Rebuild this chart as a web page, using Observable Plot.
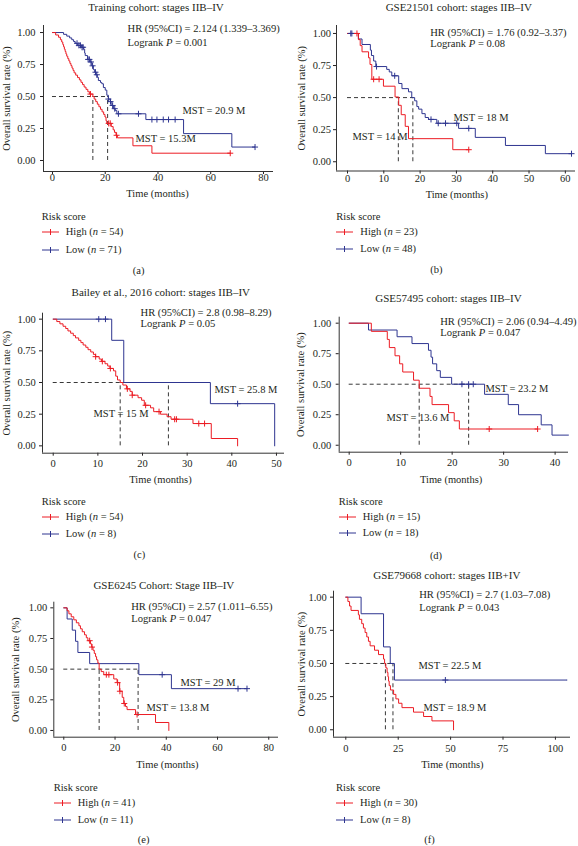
<!DOCTYPE html>
<html><head><meta charset="utf-8">
<script src="https://cdn.jsdelivr.net/npm/d3@7"></script>
<script src="https://cdn.jsdelivr.net/npm/@observablehq/plot@0.6"></script>
<style>
body{margin:0;background:#fff}
#root{position:relative;width:578px;height:846px;overflow:hidden;font-family:"Liberation Serif","Times New Roman",serif;color:#231f20}
#root svg{position:absolute}
.t{position:absolute;white-space:nowrap;font-size:10.5px;line-height:14px}
.sym{position:absolute}
</style></head><body><div id="root"></div>
<script>
const RED = "#ec1c24", BLUE = "#2e3590";
const Y_TICKS = [0, 0.25, 0.5, 0.75, 1];
const Y_LABEL = "Overall survival rate (%)";
const X_LABEL = "Time (months)";

// ---------- (a) Training cohort ----------
const aTitle = "Training cohort: stages IIB–IV";
const aHR = "HR (95%CI) = 2.124 (1.339–3.369)";
const aP = "0.001";
const aMST = [15.3, 20.9];
const aMSTLabels = ["MST = 15.3M", "MST = 20.9 M"];
const aN = [54, 71];
const aXTicks = [0, 20, 40, 60, 80];
const aHighTime = [0,1.2,2.3,3.0,3.5,3.9,4.2,4.5,4.8,5.1,5.4,5.8,6.2,6.6,7.0,7.4,7.8,8.2,8.8,9.5,10.2,10.8,11.4,12.0,12.7,13.4,14.1,15.3,15.8,16.4,17.0,17.6,18.2,18.8,19.4,19.9,20.3,20.6,22.3,23.0,23.5,24.1,24.6,30.5,37.7,67.4];
const aHighSurv = [1,0.981,0.963,0.944,0.926,0.907,0.889,0.870,0.852,0.833,0.815,0.796,0.778,0.759,0.741,0.722,0.704,0.685,0.667,0.648,0.630,0.611,0.593,0.574,0.556,0.537,0.519,0.500,0.480,0.460,0.440,0.420,0.400,0.380,0.360,0.340,0.310,0.290,0.265,0.240,0.220,0.197,0.177,0.115,0.057,0.057];
const aHighCens = [14.4, 21.3, 21.9, 24.3, 67.4];
const aLowTime = [0,4.2,5.4,6.5,7.3,8.0,8.6,9.4,11.1,11.8,12.2,12.4,13.3,14.3,14.9,15.5,16.0,16.5,17.0,17.4,18.2,18.7,19.3,20.0,20.6,21.2,21.9,22.5,23.1,23.8,24.4,35.4,49.7,68.0,76.8];
const aLowSurv = [1,0.986,0.972,0.958,0.944,0.930,0.916,0.900,0.885,0.870,0.840,0.820,0.790,0.770,0.740,0.710,0.690,0.670,0.650,0.625,0.610,0.600,0.570,0.550,0.510,0.480,0.460,0.430,0.405,0.390,0.365,0.320,0.210,0.105,0.105];
const aLowCens = [9.3,10.0,10.6,11.2,11.6,13.5,14.0,14.6,15.2,16.3,16.8,21.2,22.0,22.8,23.6,25.0,32.6,37.7,39.6,42.0,44.0,46.5,76.8];

// ---------- (b) GSE21501 ----------
const bTitle = "GSE21501 cohort: stages IIB–IV";
const bHR = "HR (95%CI) = 1.76 (0.92–3.37)";
const bP = "0.08";
const bMST = [14, 18];
const bMSTLabels = ["MST = 14 M", "MST = 18 M"];
const bN = [23, 48];
const bXTicks = [0, 10, 20, 30, 40, 50, 60];
const bHighTime = [0,3.0,3.5,4.0,5.8,6.2,6.7,9.9,13.1,14.1,14.8,15.9,16.8,29.0,33.4];
const bHighSurv = [1,0.952,0.905,0.857,0.810,0.758,0.643,0.589,0.505,0.440,0.367,0.276,0.180,0.094,0.094];
const bHighCens = [2.6, 7.2, 8.7, 33.4];
const bLowTime = [0,3.0,4.0,6.3,6.6,7.2,7.8,10.8,11.5,12.2,14.1,15.0,16.8,17.7,18.5,19.1,19.6,20.5,21.4,22.3,24.6,30.6,35.2,43.5,54.5,61.7];
const bLowSurv = [1,0.957,0.914,0.870,0.828,0.785,0.742,0.720,0.700,0.670,0.610,0.570,0.545,0.500,0.475,0.430,0.410,0.375,0.345,0.330,0.300,0.260,0.190,0.127,0.063,0.063];
const bLowCens = [0.9, 1.2, 8.0, 13.0, 23.0, 25.0, 27.0, 30.1, 33.4, 61.7];

// ---------- (c) Bailey et al., 2016 ----------
const cTitle = "Bailey et al., 2016 cohort: stages IIB–IV";
const cHR = "HR (95%CI) = 2.8 (0.98–8.29)";
const cP = "0.05";
const cMST = [15, 25.8];
const cMSTLabels = ["MST = 15 M", "MST = 25.8 M"];
const cN = [54, 8];
const cXTicks = [0, 10, 20, 30, 40, 50];
const cHighTime = [0,0.8,1.5,2.2,2.8,3.3,3.9,4.5,5.0,5.7,6.2,6.7,7.3,7.8,8.4,9.0,9.5,10.3,10.8,11.6,12.2,12.7,13.5,14.0,14.4,15.0,15.6,16.4,17.2,17.7,19.0,19.8,20.4,21.8,22.5,24.0,25.5,26.4,31.3,35.4,41.3];
const cHighSurv = [1,0.981,0.963,0.944,0.926,0.907,0.889,0.870,0.852,0.833,0.815,0.796,0.778,0.759,0.741,0.722,0.704,0.685,0.667,0.648,0.630,0.611,0.592,0.550,0.520,0.500,0.480,0.450,0.430,0.400,0.380,0.360,0.320,0.300,0.270,0.250,0.230,0.210,0.176,0.058,0];
const cHighCens = [9.5, 11.0, 12.8, 16.6, 17.7, 20.7, 23.7, 27.2, 27.6, 32.6, 33.9];
const cLowTime = [0, 13.1, 15.8, 35.2, 49.6];
const cLowSurv = [1, 0.833, 0.5, 0.333, 0];
const cLowCens = [10.2, 11.7, 41.3];

// ---------- (d) GSE57495 ----------
const dTitle = "GSE57495 cohort: stages IIB–IV";
const dHR = "HR (95%CI) = 2.06 (0.94–4.49)";
const dP = "0.047";
const dMST = [13.6, 23.2];
const dMSTLabels = ["MST = 13.6 M", "MST = 23.2 M"];
const dN = [15, 18];
const dXTicks = [0, 10, 20, 30, 40];
const dHighTime = [0,4.3,7.4,7.8,8.9,9.8,10.4,12.5,13.6,15.7,16.1,19.3,20.4,21.4,36.6];
const dHighSurv = [1,0.933,0.867,0.800,0.733,0.667,0.600,0.533,0.467,0.400,0.333,0.267,0.200,0.133,0.133];
const dHighCens = [27.2, 36.6];
const dLowTime = [0,3.75,9.3,12.2,15.4,15.9,16.2,17.0,17.7,19.9,26.3,30.9,32.9,37.3,39.4,42.6];
const dLowSurv = [1,0.944,0.889,0.833,0.778,0.722,0.667,0.611,0.556,0.500,0.417,0.333,0.250,0.167,0.083,0.083];
const dLowCens = [21.9, 23.2, 24.1];

// ---------- (e) GSE6245 ----------
const eTitle = "GSE6245 Cohort: Stage IIB–IV";
const eHR = "HR (95%CI) = 2.57 (1.011–6.55)";
const eP = "0.047";
const eMST = [13.8, 29];
const eMSTLabels = ["MST = 13.8 M", "MST = 29 M"];
const eN = [41, 11];
const eXTicks = [0, 20, 40, 60, 80];
const eHighTime = [0,1.3,2.0,2.9,3.9,4.9,5.9,6.5,7.2,8.1,8.8,9.4,10.4,10.9,11.4,11.9,12.4,12.8,13.3,13.8,14.6,15.6,19.5,20.8,21.8,22.8,23.4,24.1,24.7,28.0,35.8,41.0];
const eHighSurv = [1,0.976,0.951,0.927,0.902,0.878,0.854,0.829,0.805,0.780,0.756,0.732,0.706,0.680,0.654,0.628,0.602,0.576,0.550,0.500,0.480,0.455,0.420,0.390,0.320,0.270,0.220,0.195,0.170,0.130,0.065,0];
const eHighCens = [10.1, 11.0, 16.6, 17.6, 21.0, 21.9, 23.6, 28.6];
const eLowTime = [0,1.3,3.3,4.6,5.5,10.1,29.3,42.0,71.5];
const eLowSurv = [1,0.909,0.818,0.727,0.636,0.545,0.455,0.341,0.341];
const eLowCens = [38.4, 68.0, 71.5];

// ---------- (f) GSE79668 ----------
const fTitle = "GSE79668 cohort: stages IIB+IV";
const fHR = "HR (95%CI) = 2.7 (1.03–7.08)";
const fP = "0.043";
const fMST = [18.9, 22.5];
const fMSTLabels = ["MST = 18.9 M", "MST = 22.5 M"];
const fN = [30, 8];
const fXTicks = [0, 25, 50, 75, 100];
const fHighTime = [0,1.0,1.8,2.5,6.0,6.5,7.6,8.4,9.2,10.0,10.8,11.6,13.7,15.6,18.0,18.5,19.1,19.7,20.1,20.4,20.7,21.3,22.8,23.9,25.2,26.8,32.3,37.1,41.1,51.4];
const fHighSurv = [1,0.967,0.933,0.900,0.867,0.833,0.800,0.767,0.733,0.700,0.667,0.633,0.600,0.567,0.533,0.500,0.467,0.433,0.400,0.367,0.333,0.300,0.267,0.233,0.200,0.167,0.133,0.100,0.067,0];
const fHighCens = [];
const fLowTime = [0, 7.3, 18.0, 21.2, 23.2, 105.6];
const fLowSurv = [1, 0.875, 0.625, 0.5, 0.375, 0.375];
const fLowCens = [47.5];

// ---------- layout (pixel geometry of each panel) ----------
const panels = [
  {title:aTitle, hr:aHR, p:aP, mst:aMST, mstLabels:aMSTLabels, n:aN, xticks:aXTicks,
   high:[aHighTime,aHighSurv,aHighCens], low:[aLowTime,aLowSurv,aLowCens], cap:"(a)",
   g:{left:0, top:0, w:289, h:205, L:43, R:273, T:25, B:171, xdom:[-3.41,83.8], ydom:[-0.086,1.055], yPad:5, xPad:-1,
      title:[-2.5,-18], ylab:-37, xlab:[-1,22.5], hr:[84,3], lr:16.7, mHigh:[92,113], mLow:[139,85],
      leg:{x:41.7, risk:216.7, high:232.3, low:250, capX:138.7, capY:270.7}}},
  {title:bTitle, hr:bHR, p:bP, mst:bMST, mstLabels:bMSTLabels, n:bN, xticks:bXTicks,
   high:[bHighTime,bHighSurv,bHighCens], low:[bLowTime,bLowSurv,bLowCens], cap:"(b)",
   g:{left:288, top:0, w:290, h:205, L:336, R:575, T:25, B:170.5, xdom:[-3.03,62.8], ydom:[-0.072,1.062], yPad:2.5, xPad:1,
      title:[2.8,-18], ylab:-34.7, xlab:[0.8,23.8], hr:[93.7,7.3], lr:18.3, mHigh:[16,111], mLow:[117,92],
      leg:{x:336.3, risk:217.3, high:232.3, low:249.3, capX:436.3, capY:270}}},
  {title:cTitle, hr:cHR, p:cP, mst:cMST, mstLabels:cMSTLabels, n:cN, xticks:cXTicks,
   high:[cHighTime,cHighSurv,cHighCens], low:[cLowTime,cLowSurv,cLowCens], cap:"(c)",
   g:{left:0, top:270, w:289, h:230, L:42, R:284, T:312.7, B:452.7, xdom:[-2.4,51.8], ydom:[-0.058,1.047], yPad:3.7, xPad:3.5,
      title:[-2.7,-21], ylab:-36, xlab:[-3,26.6], hr:[98,-1], lr:10.8, mHigh:[51,100.3], mLow:[172,76.3],
      leg:{x:41.7, risk:501.7, high:516.7, low:534, capX:139.3, capY:555}}},
  {title:dTitle, hr:dHR, p:dP, mst:dMST, mstLabels:dMSTLabels, n:dN, xticks:dXTicks,
   high:[dHighTime,dHighSurv,dHighCens], low:[dLowTime,dLowSurv,dLowCens], cap:"(d)",
   g:{left:288, top:270, w:290, h:230, L:338.7, R:568, T:316.7, B:451.7, xdom:[-1.94,42.6], ydom:[-0.057,1.049], yPad:5, xPad:3.7,
      title:[-5.4,-18.7], ylab:-39, xlab:[-2.7,27.3], hr:[101,4.5], lr:15.8, mHigh:[47.3,100], mLow:[146.3,71.3],
      leg:{x:338.7, risk:501.7, high:517, low:533, capX:436, capY:556}}},
  {title:eTitle, hr:eHR, p:eP, mst:eMST, mstLabels:eMSTLabels, n:eN, xticks:eXTicks,
   high:[eHighTime,eHighSurv,eHighCens], low:[eLowTime,eLowSurv,eLowCens], cap:"(e)",
   g:{left:0, top:550, w:289, h:230, L:53.3, R:278, T:601.7, B:736.7, xdom:[-3.9,83.8], ydom:[-0.055,1.046], yPad:3.6, xPad:3,
      title:[-2.3,-16.7], ylab:-38.3, xlab:[1.3,27.3], hr:[77.4,4.3], lr:16.6, mHigh:[92.7,105], mLow:[126.7,80],
      leg:{x:53.7, risk:787.7, high:802.7, low:820, capX:143.7, capY:840}}},
  {title:fTitle, hr:fHR, p:fP, mst:fMST, mstLabels:fMSTLabels, n:fN, xticks:fXTicks,
   high:[fHighTime,fHighSurv,fHighCens], low:[fLowTime,fLowSurv,fLowCens], cap:"(f)",
   g:{left:288, top:550, w:290, h:230, L:333, R:570, T:590.7, B:736.7, xdom:[-5.87,107.2], ydom:[-0.056,1.045], yPad:3.7, xPad:4,
      title:[-5.2,-15.7], ylab:-31.7, xlab:[0.4,27.3], hr:[85.7,3.6], lr:16, mHigh:[90,116.6], mLow:[85,74.3],
      leg:{x:336, risk:787.7, high:802.7, low:820, capX:429.6, capY:840}}}
];

const root = document.getElementById("root");
const FONT = '"Liberation Serif","Times New Roman",serif';

function steps(times, surv) { return times.map((t, i) => ({t, s: surv[i]})); }
function censors(ct, times, surv) {
  return ct.map(c => { let s = surv[0]; for (let i = 0; i < times.length; i++) if (times[i] <= c) s = surv[i]; return {t: c, s}; });
}

function addText(html, x, y, anchor) {
  const d = document.createElement("div");
  d.className = "t";
  d.innerHTML = html;
  d.style.left = x + "px";
  d.style.top = (y - 7) + "px";
  if (anchor === "middle") d.style.transform = "translateX(-50%)";
  root.appendChild(d);
}
function addSym(x, y, color) {
  const ns = "http://www.w3.org/2000/svg";
  const s = document.createElementNS(ns, "svg");
  s.setAttribute("width", 18); s.setAttribute("height", 8);
  s.setAttribute("class", "sym");
  s.style.left = x + "px"; s.style.top = (y - 4) + "px";
  s.innerHTML = `<line x1="0" x2="17" y1="4" y2="4" stroke="${color}" stroke-width="1"/><line x1="8.5" x2="8.5" y1="1" y2="7" stroke="${color}" stroke-width="1"/>`;
  root.appendChild(s);
}

for (const P of panels) {
  const g = P.g;
  const hi = steps(P.high[0], P.high[1]), lo = steps(P.low[0], P.low[1]);
  const hic = censors(P.high[2], P.high[0], P.high[1]), loc = censors(P.low[2], P.low[0], P.low[1]);
  const tl = (txt, dx, dy, extra = {}) => Plot.text([txt], {frameAnchor: "top-left", textAnchor: "start", lineAnchor: "middle", dx, dy, fontSize: 10.5, ...extra});
  const chart = Plot.plot({
    width: g.w, height: g.h,
    marginLeft: g.L - g.left, marginRight: g.left + g.w - g.R,
    marginTop: g.T - g.top, marginBottom: g.top + g.h - g.B,
    x: {domain: g.xdom}, y: {domain: g.ydom},
    style: {fontFamily: FONT, fontSize: "10.5px", color: "#231f20", background: "transparent", overflow: "visible"},
    marks: [
      Plot.axisY({ticks: Y_TICKS, tickFormat: d3.format(".2f"), tickSize: 3, tickPadding: g.yPad, label: null, fontSize: 10.5}),
      Plot.axisX({ticks: P.xticks, tickSize: 3, tickPadding: g.xPad, label: null, fontSize: 10.5}),
      Plot.ruleX([g.xdom[0]], {stroke: "#333", strokeWidth: 1}),
      Plot.ruleY([g.ydom[0]], {stroke: "#333", strokeWidth: 1}),
      Plot.ruleY([0.5], {x1: 0, x2: Math.max(...P.mst), stroke: "#222", strokeWidth: 0.9, strokeDasharray: "4,3"}),
      Plot.ruleX(P.mst, {y1: 0, y2: 0.5, stroke: "#222", strokeWidth: 0.9, strokeDasharray: "4,3"}),
      Plot.line(lo, {x: "t", y: "s", curve: "step-after", stroke: BLUE, strokeWidth: 1}),
      Plot.line(hi, {x: "t", y: "s", curve: "step-after", stroke: RED, strokeWidth: 1}),
      Plot.dot(loc, {x: "t", y: "s", symbol: "plus", r: 2.1, stroke: BLUE, strokeWidth: 1}),
      Plot.dot(hic, {x: "t", y: "s", symbol: "plus", r: 2.1, stroke: RED, strokeWidth: 1}),
      Plot.text([P.title], {frameAnchor: "top", textAnchor: "middle", lineAnchor: "middle", dx: g.title[0], dy: g.title[1], fontSize: 11}),
      Plot.text([Y_LABEL], {frameAnchor: "left", textAnchor: "middle", rotate: -90, lineAnchor: "middle", dx: g.ylab, fontSize: 10.5}),
      Plot.text([X_LABEL], {frameAnchor: "bottom", textAnchor: "middle", lineAnchor: "middle", dx: g.xlab[0], dy: g.xlab[1], fontSize: 10.5}),
      tl(P.hr, g.hr[0], g.hr[1], {fontSize: 10.6}),
      tl("Logrank P = " + P.p, g.hr[0], g.lr, {fontSize: 10.6}),
      tl(P.mstLabels[0], g.mHigh[0], g.mHigh[1]),
      tl(P.mstLabels[1], g.mLow[0], g.mLow[1])
    ]
  });
  chart.style.left = g.left + "px";
  chart.style.top = g.top + "px";
  // italic P in the logrank line
  for (const t of chart.querySelectorAll("text")) {
    const m = /^Logrank P = (.*)$/.exec(t.textContent);
    if (m && t.children.length === 0) {
      t.textContent = "";
      t.append("Logrank ");
      const sp = document.createElementNS("http://www.w3.org/2000/svg", "tspan");
      sp.setAttribute("font-style", "italic");
      sp.textContent = "P";
      t.append(sp);
      t.append(" = " + m[1]);
    }
  }
  root.appendChild(chart);
  const L = g.leg;
  addText("Risk score", L.x, L.risk, "start");
  addSym(L.x, L.high, RED);
  addText(`High (<i>n</i> = ${P.n[0]})`, L.x + 24, L.high, "start");
  addSym(L.x, L.low, BLUE);
  addText(`Low (<i>n</i> = ${P.n[1]})`, L.x + 24, L.low, "start");
  addText(P.cap, L.capX, L.capY, "middle");
}
</script></body></html>
